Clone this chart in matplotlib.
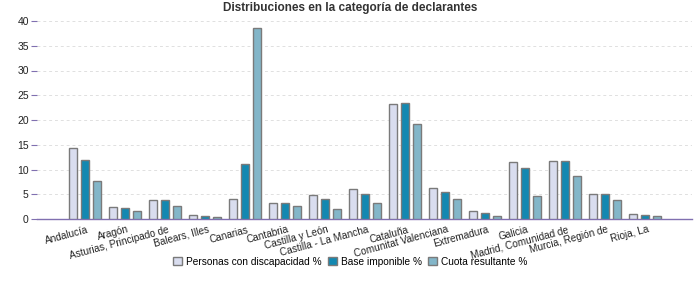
import matplotlib
matplotlib.use("Agg")
import matplotlib.pyplot as plt
import numpy as np

plt.rcParams['font.family'] = ['Liberation Sans', 'DejaVu Sans']

categories = ["Andalucía", "Aragón", "Asturias, Principado de", "Balears, Illes",
              "Canarias", "Cantabria", "Castilla y León", "Castilla - La Mancha",
              "Cataluña", "Comunitat Valenciana", "Extremadura", "Galicia",
              "Madrid, Comunidad de", "Murcia, Región de", "Rioja, La"]
personas = [14.4, 2.4, 3.85, 0.8, 4.05, 3.2, 4.85, 6.07, 23.3, 6.3, 1.6, 11.5, 11.7, 5.06, 1.0]
base = [11.9, 2.2, 3.85, 0.6, 11.1, 3.2, 4.05, 5.06, 23.5, 5.5, 1.2, 10.3, 11.7, 5.06, 0.8]
cuota = [7.7, 1.6, 2.6, 0.4, 38.5, 2.6, 2.0, 3.24, 19.2, 4.05, 0.6, 4.65, 8.7, 3.85, 0.6]
series_names = ["Personas con discapacidad %", "Base imponible %", "Cuota resultante %"]
colors = ["#d9ddef", "#1388b1", "#83b6c9"]

fig = plt.figure(figsize=(7, 3), dpi=100)
ax = fig.add_axes([0.053, 0.27, 0.936, 0.66])

x = np.arange(len(categories))
off = 0.3
w = 0.215
for i, (vals, name, c) in enumerate(zip([personas, base, cuota], series_names, colors)):
    ax.bar(x + (i - 1) * off, vals, width=w, color=c, edgecolor="#7a7a7a",
           linewidth=1.0, label=name, zorder=3)

ax.set_xlim(-1.2, 15.18)
ax.set_ylim(0, 40)
ax.set_yticks(range(0, 41, 5))
ax.yaxis.grid(True, linestyle=(0, (3, 3)), color="#e0e0e0", linewidth=0.7, zorder=0)
for s in ["top", "right", "left"]:
    ax.spines[s].set_visible(False)
ax.spines["bottom"].set_color("#8070b0")
ax.spines["bottom"].set_linewidth(1.0)
ax.tick_params(axis="y", length=4, color="#8070b0", labelsize=7.5, pad=2, labelcolor="#222222")
ax.tick_params(axis="x", length=0, labelsize=7.2, pad=4, labelcolor="#222222")
ax.set_xticks(x + 0.05)
ax.set_xticklabels(categories, rotation=15, ha="right", rotation_mode="anchor")

fig.text(0.5, 0.972, "Distribuciones en la categoría de declarantes", fontsize=8.5,
         fontweight="bold", color="#333333", ha="center", va="center")

fig.legend(loc="center", bbox_to_anchor=(0.5, 0.128), ncol=3, frameon=False,
           fontsize=7.3, handlelength=0.9, handleheight=0.9, handletextpad=0.4,
           columnspacing=0.6)

fig.savefig("out.png", dpi=100)
